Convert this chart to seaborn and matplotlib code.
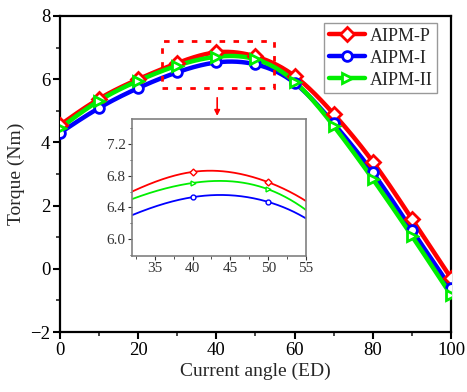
import numpy as np
import pandas as pd
import matplotlib
matplotlib.use("Agg")
import matplotlib.pyplot as plt
from matplotlib.lines import Line2D
from matplotlib.patches import Rectangle
from matplotlib.ticker import MultipleLocator
import seaborn as sns

angles = [0, 10, 20, 30, 40, 50, 60, 70, 80, 90, 100]
aipm_p = [4.55, 5.38, 6.00, 6.51, 6.85, 6.72, 6.10, 4.90, 3.39, 1.58, -0.29]
aipm_i = [4.30, 5.09, 5.72, 6.22, 6.53, 6.47, 5.88, 4.60, 3.05, 1.23, -0.60]
aipm_ii = [4.45, 5.32, 5.95, 6.43, 6.71, 6.63, 5.92, 4.52, 2.84, 1.04, -0.83]
series_names = ["AIPM-P", "AIPM-I", "AIPM-II"]
colors = ["#ff0000", "#0000ff", "#00ee00"]
markers = ["D", "o", ">"]

sns.set_theme(style="ticks")
plt.rcParams["font.family"] = ["Liberation Serif", "DejaVu Serif"]
plt.rcParams["mathtext.fontset"] = "stix"


def natural_spline(x, y, xs):
    x = np.asarray(x, float)
    y = np.asarray(y, float)
    n = len(x)
    h = np.diff(x)
    A = np.zeros((n, n))
    b = np.zeros(n)
    A[0, 0] = 1
    A[-1, -1] = 1
    for i in range(1, n - 1):
        A[i, i - 1] = h[i - 1]
        A[i, i] = 2 * (h[i - 1] + h[i])
        A[i, i + 1] = h[i]
        b[i] = 3 * ((y[i + 1] - y[i]) / h[i] - (y[i] - y[i - 1]) / h[i - 1])
    c = np.linalg.solve(A, b)
    out = np.empty_like(xs, dtype=float)
    for k, xv in enumerate(xs):
        i = min(max(np.searchsorted(x, xv) - 1, 0), n - 2)
        dx = xv - x[i]
        bi = (y[i + 1] - y[i]) / h[i] - h[i] * (2 * c[i] + c[i + 1]) / 3
        di = (c[i + 1] - c[i]) / (3 * h[i])
        out[k] = y[i] + bi * dx + c[i] * dx ** 2 + di * dx ** 3
    return out


xs = np.linspace(0, 100, 401)
vals = [aipm_p, aipm_i, aipm_ii]
dense = pd.concat([
    pd.DataFrame({"x": xs, "y": natural_spline(angles, v, xs), "s": n})
    for n, v in zip(series_names, vals)
])
pts = pd.concat([
    pd.DataFrame({"x": angles, "y": v, "s": n})
    for n, v in zip(series_names, vals)
])

fig = plt.figure(figsize=(4.67, 3.92), dpi=100)
ax = fig.add_axes([0.1285, 0.153, 0.8372, 0.8062])

for n, c, m in zip(series_names, colors, markers):
    sns.lineplot(data=dense[dense.s == n], x="x", y="y", color=c, lw=3.2,
                 ax=ax, legend=False, zorder=2)
    d = pts[pts.s == n]
    ax.plot(d.x, d.y, ls="none", marker=m, ms=7, mfc="white", mec=c,
            mew=2, zorder=3)

ax.set_xlim(0, 100)
ax.set_ylim(-2, 8)
ax.xaxis.set_major_locator(MultipleLocator(20))
ax.xaxis.set_minor_locator(MultipleLocator(10))
ax.yaxis.set_major_locator(MultipleLocator(2))
ax.yaxis.set_minor_locator(MultipleLocator(1))
ax.tick_params(which="major", direction="out", length=5, width=1.5,
               labelsize=13.5, colors="black", pad=2)
ax.tick_params(which="minor", direction="out", length=3, width=1.2)
for sp in ax.spines.values():
    sp.set_linewidth(1.6)
    sp.set_color("black")
ax.set_xlabel("Current angle (ED)", fontsize=14, labelpad=3)
ax.set_ylabel("Torque (Nm)", fontsize=14, labelpad=4)

handles = [Line2D([0], [0], color=c, lw=3.2, marker=m, ms=7, mfc="white",
                  mec=c, mew=2) for c, m in zip(colors, markers)]
leg = ax.legend(handles, series_names, loc="upper right", fontsize=13,
                frameon=True, fancybox=False, edgecolor="gray",
                handlelength=2.0, handletextpad=0.25, borderpad=0.25,
                labelspacing=0.28, borderaxespad=0.0,
                bbox_to_anchor=(437 / 467, 1 - 23 / 392),
                bbox_transform=fig.transFigure)
leg.get_frame().set_linewidth(1.0)

ax.add_patch(Rectangle((26.1, 5.72), 28.6, 1.49, fill=False, ec="red",
                       ls=(0, (2, 3)), lw=2, zorder=4))
ax.annotate("", xy=(40.2, 4.75), xytext=(40.2, 5.5),
            arrowprops=dict(arrowstyle="-|>", color="red", lw=1.2,
                            mutation_scale=8))

ins = fig.add_axes([0.2827, 0.3469, 0.3726, 0.3495])
xi = np.linspace(32, 55, 200)
for n, c, m, v in zip(series_names, colors, markers, vals):
    ins.plot(xi, natural_spline(angles, v, xi), color=c, lw=1.3)
    sel = [(a, y) for a, y in zip(angles, v) if 32 <= a <= 55]
    ins.plot([a for a, _ in sel], [y for _, y in sel], ls="none", marker=m,
             ms=3.5, mfc="white", mec=c, mew=1)
ins.set_xlim(32, 55)
ins.set_ylim(5.785, 7.52)
ins.xaxis.set_major_locator(MultipleLocator(5))
ins.xaxis.set_minor_locator(MultipleLocator(2.5))
ins.yaxis.set_minor_locator(MultipleLocator(0.2))
ins.set_yticks([6.0, 6.4, 6.8, 7.2])
ins.set_yticklabels(["6.0", "6.4", "6.8", "7.2"])
ins.tick_params(which="major", direction="out", length=3, width=0.8,
                labelsize=11, colors="#333333", pad=1.5)
ins.tick_params(which="minor", direction="out", length=1.8, width=0.6,
                colors="#333333")
for sp in ins.spines.values():
    sp.set_linewidth(1.2)
    sp.set_color("#808080")

fig.savefig("out.png", dpi=100)
